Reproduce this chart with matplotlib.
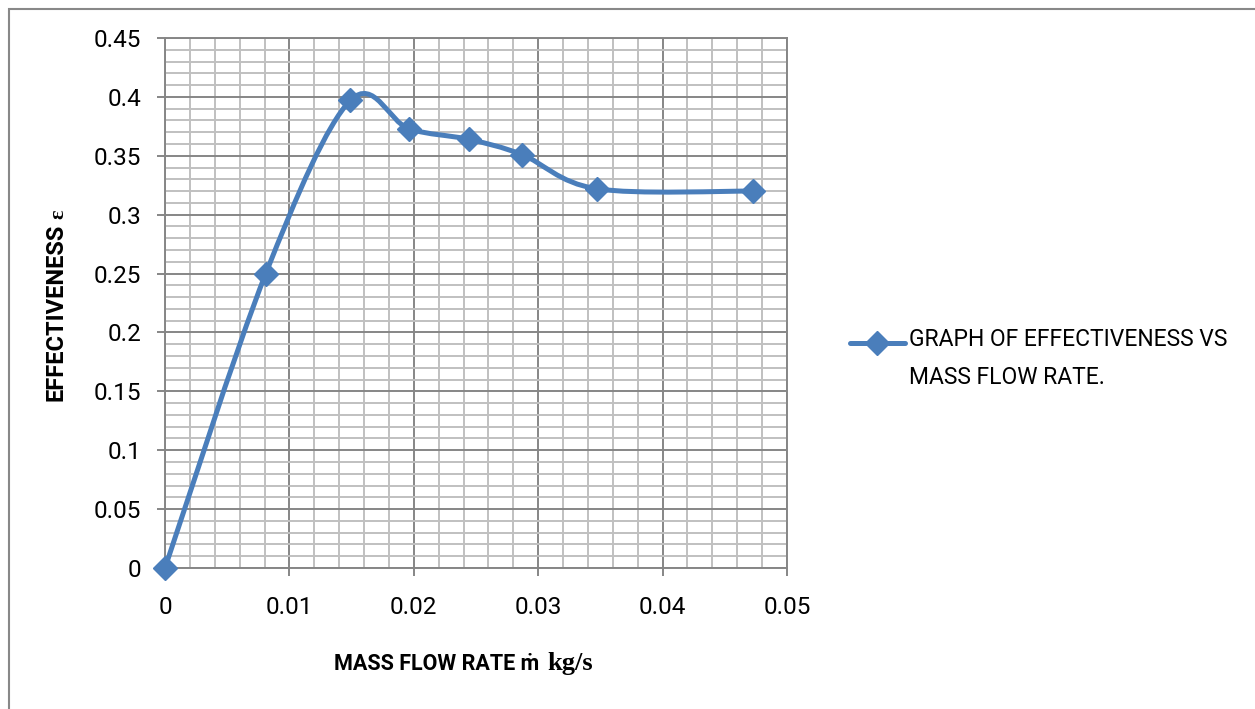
import numpy as np
import matplotlib
matplotlib.use("Agg")
import matplotlib.pyplot as plt
from matplotlib.path import Path
from matplotlib.patches import PathPatch, Rectangle
from matplotlib.lines import Line2D
from matplotlib.ticker import MultipleLocator, FuncFormatter

mass_flow = [0.0, 0.0081, 0.0149, 0.0196, 0.0244, 0.0287, 0.0347, 0.0473]
effectiveness = [0.0, 0.25, 0.397, 0.373, 0.364, 0.351, 0.322, 0.320]
series_label = "GRAPH OF EFFECTIVENESS VS\nMASS FLOW RATE."
x_label = "MASS FLOW RATE ṁ"
x_unit = "kg/s"
y_label = "EFFECTIVENESS"
y_unit = "ε"

BLUE = "#4a7ebb"
SANS = ["Roboto", "DejaVu Sans"]
SERIF = ["Liberation Serif", "DejaVu Serif"]
W, H = 1255, 709

fig = plt.figure(figsize=(12.55, 7.09), dpi=100)
ax = fig.add_axes([165/W, 1-568/H, (787-165)/W, (568-38)/H])

# smoothed line (Excel-like Catmull-Rom Bezier)
x = np.array(mass_flow); y = np.array(effectiveness)
P = np.column_stack([x, y])
n = len(P)
verts = [P[0]]; codes = [Path.MOVETO]
for i in range(n-1):
    p0 = P[i-1] if i > 0 else P[i]
    p1 = P[i]; p2 = P[i+1]
    p3 = P[i+2] if i+2 < n else P[i+1]
    c1 = p1 + (p2 - p0)/6.0
    c2 = p2 - (p3 - p1)/6.0
    verts += [c1, c2, p2]; codes += [Path.CURVE4]*3
ax.add_patch(PathPatch(Path(verts, codes), fill=False, edgecolor=BLUE, lw=3.6,
                       capstyle='round', joinstyle='round', zorder=3))
ax.plot(x, y, linestyle='none', marker='D', markersize=12, color=BLUE, zorder=4, clip_on=False)

ax.set_xlim(0, 0.05)
ax.set_ylim(0, 0.45)
ax.xaxis.set_major_locator(MultipleLocator(0.01))
ax.xaxis.set_minor_locator(MultipleLocator(0.002))
ax.yaxis.set_major_locator(MultipleLocator(0.05))
ax.yaxis.set_minor_locator(MultipleLocator(0.01))
ax.grid(which='minor', color='#c0c0c0', lw=1.4)
ax.grid(which='major', color='#868686', lw=1.4)
ax.set_axisbelow(True)
for s in ax.spines.values():
    s.set_color('#868686'); s.set_linewidth(1.4)
ax.tick_params(which='major', direction='out', length=6, color='#868686', width=1.4,
               labelsize=17.5)
ax.tick_params(which='minor', length=0)
ax.tick_params(axis='y', pad=11)
ax.tick_params(axis='x', pad=14)
ax.xaxis.set_major_formatter(FuncFormatter(lambda v, p: f"{v:g}"))
ax.yaxis.set_major_formatter(FuncFormatter(lambda v, p: f"{v:g}"))
for lab in ax.get_xticklabels() + ax.get_yticklabels():
    lab.set_fontfamily(SANS)

# axis labels
t1 = fig.text(334/W, 1-670/H, x_label, fontsize=15.5, fontweight='bold',
              family=SANS, ha='left', va='baseline')
t2 = fig.text(63/W, 1-401/H, y_label, fontsize=17, fontweight='bold', family=SANS,
              rotation=90, ha='left', va='baseline', rotation_mode='anchor')
fig.canvas.draw()
r = fig.canvas.get_renderer()
e1 = t1.get_window_extent(r)
fig.text((e1.x1 + 8)/W, 1-670/H, x_unit, fontsize=19, fontweight='bold', family=SERIF,
         ha='left', va='baseline')
e2 = t2.get_window_extent(r)
fig.text(63/W, (e2.y1 + 5)/H, y_unit, fontsize=16, fontweight='bold', family=SERIF,
         rotation=90, ha='left', va='baseline', rotation_mode='anchor')

# legend drawn manually
fig.add_artist(Line2D([850/W, 905/W], [1-343/H]*2, color=BLUE, lw=3.6,
                      solid_capstyle='round', transform=fig.transFigure))
fig.add_artist(Line2D([877/W], [1-343/H], color=BLUE, marker='D', markersize=12,
                      transform=fig.transFigure))
fig.text(909/W, 1-328/H, series_label, fontsize=16.5, family=SANS, ha='left', va='top',
         linespacing=1.85, transform=fig.transFigure)

# outer border
fig.add_artist(Rectangle((8.5/W, -0.05), 1.1, 1-8.5/H+0.05, fill=False,
                         edgecolor='#888888', lw=1.5, transform=fig.transFigure))

fig.savefig("out.png", dpi=100)
